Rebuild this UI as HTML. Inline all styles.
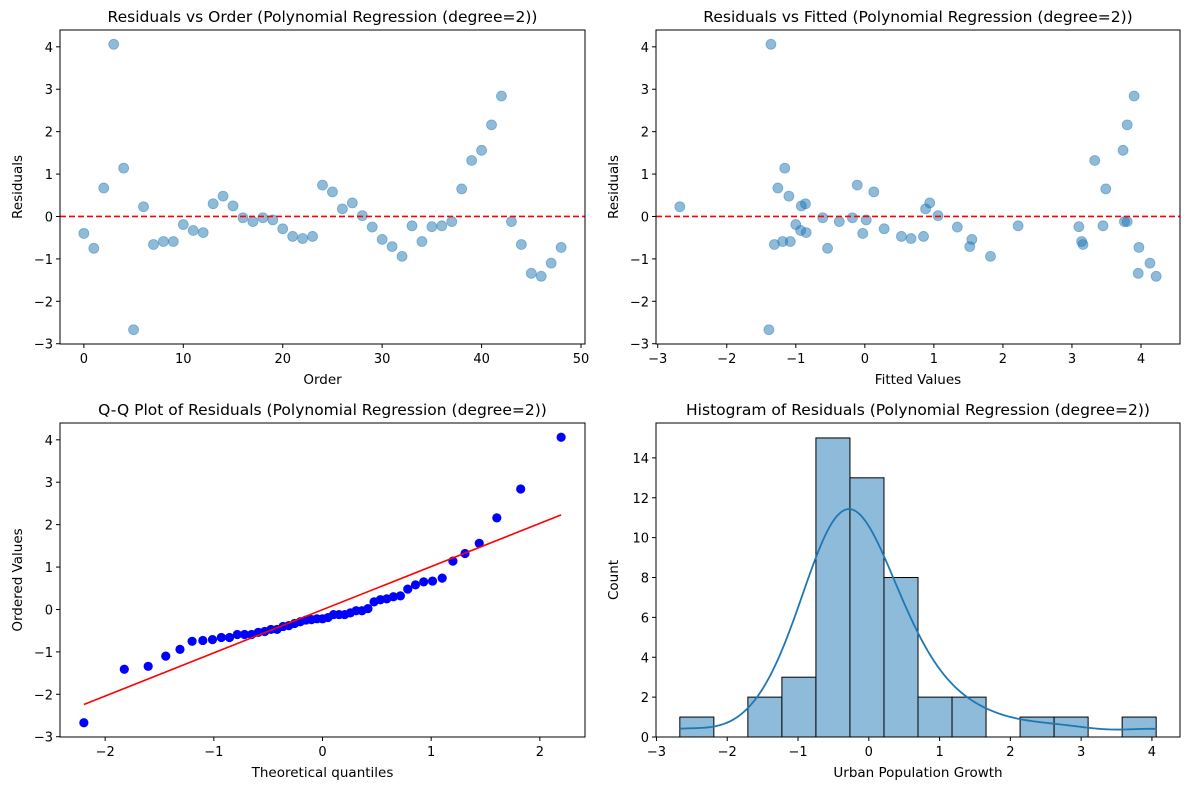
<!DOCTYPE html>
<html><head><meta charset="utf-8"><style>
html,body{margin:0;padding:0;background:#fff;}
svg{display:block;font-family:"DejaVu Sans","Liberation Sans",sans-serif;}
</style></head><body>
<svg id="fig" width="1189" height="790" viewBox="0 0 1189 790" xmlns="http://www.w3.org/2000/svg"></svg>
<script>
// ---- data ----
const orderIdx = [0,1,2,3,4,5,6,7,8,9,10,11,12,13,14,15,16,17,18,19,20,21,22,23,24,25,26,27,28,29,30,31,32,33,34,35,36,37,38,39,40,41,42,43,44,45,46,47,48];
const residuals = [-0.40,-0.75,0.67,4.06,1.14,-2.67,0.23,-0.66,-0.59,-0.59,-0.19,-0.33,-0.38,0.30,0.48,0.25,-0.03,-0.12,-0.03,-0.08,-0.29,-0.47,-0.52,-0.47,0.74,0.58,0.18,0.32,0.02,-0.25,-0.54,-0.71,-0.94,-0.22,-0.59,-0.24,-0.22,-0.12,0.65,1.32,1.56,2.16,2.84,-0.12,-0.66,-1.34,-1.41,-1.10,-0.73];
const fitted = [-0.03,-0.54,-1.26,-1.36,-1.16,-1.39,-2.68,-1.31,-1.19,-1.08,-1.00,-0.93,-0.85,-0.86,-1.10,-0.92,-0.61,-0.37,-0.18,0.02,0.28,0.53,0.67,0.85,-0.11,0.13,0.88,0.94,1.06,1.34,1.55,1.52,1.82,2.22,3.14,3.10,3.45,3.76,3.49,3.33,3.74,3.80,3.90,3.80,3.16,3.96,4.22,4.13,3.97];
const histBins = 14;
const ticksOrderX = [0,10,20,30,40,50];
const ticksResY = [-3,-2,-1,0,1,2,3,4];
const ticksFittedX = [-3,-2,-1,0,1,2,3,4];
const ticksQQX = [-2,-1,0,1,2];
const ticksHistX = [-3,-2,-1,0,1,2,3,4];
const ticksHistY = [0,2,4,6,8,10,12,14];

const svg = document.getElementById('fig');
const NS = 'http://www.w3.org/2000/svg';
function mk(tag, attrs, parent, text){
  const e = document.createElementNS(NS, tag);
  for (const k in attrs) e.setAttribute(k, attrs[k]);
  if (text !== undefined) e.textContent = text;
  (parent||svg).appendChild(e);
  return e;
}
function pad(lo, hi){ const r = hi-lo; return [lo-0.05*r, hi+0.05*r]; }
function minOf(a){ return Math.min.apply(null,a); }
function maxOf(a){ return Math.max.apply(null,a); }

function makeAxes(name, box, xlim, ylim){
  const g = mk('g', {});
  
  
  const sx = v => box.x0 + (v - xlim[0])/(xlim[1]-xlim[0])*(box.x1-box.x0);
  const sy = v => box.y1 - (v - ylim[0])/(ylim[1]-ylim[0])*(box.y1-box.y0);
  return {g, sx, sy, box};
}
function frame(ax, title, xlabel, ylabel, xt, yt){
  const {g, sx, sy, box} = ax;
  const fr = mk('rect', {x:box.x0, y:box.y0, width:box.x1-box.x0, height:box.y1-box.y0, fill:'none', stroke:'#000', 'stroke-width':1}, g);
  
  
  xt.forEach(v => {
    const x = sx(v);
    mk('line', {x1:x, x2:x, y1:box.y1, y2:box.y1+4, stroke:'#000'}, g);
    const t = mk('text', {x:x, y:box.y1+19, 'text-anchor':'middle', 'font-size':13, fill:'#000'}, g, String(v).replace('-', '\u2212'));
    
    
  });
  yt.forEach(v => {
    const y = sy(v);
    mk('line', {x1:box.x0-4, x2:box.x0, y1:y, y2:y, stroke:'#000'}, g);
    const t = mk('text', {x:box.x0-7, y:y+5, 'text-anchor':'end', 'font-size':13, fill:'#000'}, g, String(v).replace('-', '\u2212'));
    
    
  });
  const cx = (box.x0+box.x1)/2, cy = (box.y0+box.y1)/2;
  const tt = mk('text', {x:cx, y:box.y0-8, 'text-anchor':'middle', 'font-size':15.5, fill:'#000'}, g, title);
  
  
  const xl = mk('text', {x:cx, y:box.y1+40, 'text-anchor':'middle', 'font-size':13.5, fill:'#000'}, g, xlabel);
  
  
  const yx = box.x0 - 38;
  const yl = mk('text', {x:yx, y:cy, 'text-anchor':'middle', 'font-size':13.5, fill:'#000', transform:`rotate(-90 ${yx} ${cy})`}, g, ylabel);
  
  
}

const resLim = pad(minOf(residuals), maxOf(residuals));

// ---- Panel 1: residuals vs order ----
{
  const ax = makeAxes('residuals-vs-order-chart', {x0:60,x1:585,y0:30,y1:344}, pad(minOf(orderIdx), maxOf(orderIdx)), resLim);
  orderIdx.forEach((o,i) => {
    const c = mk('circle', {cx:ax.sx(o), cy:ax.sy(residuals[i]), r:5, fill:'#1f77b4', 'fill-opacity':0.5, stroke:'#1f77b4', 'stroke-opacity':0.5, 'stroke-width':0.8}, ax.g);
    
    
  });
  const zl = mk('line', {x1:60, x2:585, y1:ax.sy(0), y2:ax.sy(0), stroke:'#ff0000', 'stroke-width':1.6, 'stroke-dasharray':'6,3'}, ax.g);
  
  
  frame(ax, 'Residuals vs Order (Polynomial Regression (degree=2))', 'Order', 'Residuals', ticksOrderX, ticksResY);
}
// ---- Panel 2: residuals vs fitted ----
{
  const ax = makeAxes('residuals-vs-fitted-chart', {x0:656,x1:1180,y0:30,y1:344}, pad(minOf(fitted), maxOf(fitted)), resLim);
  fitted.forEach((f,i) => {
    const c = mk('circle', {cx:ax.sx(f), cy:ax.sy(residuals[i]), r:5, fill:'#1f77b4', 'fill-opacity':0.5, stroke:'#1f77b4', 'stroke-opacity':0.5, 'stroke-width':0.8}, ax.g);
    
    
  });
  const zl = mk('line', {x1:656, x2:1180, y1:ax.sy(0), y2:ax.sy(0), stroke:'#ff0000', 'stroke-width':1.6, 'stroke-dasharray':'6,3'}, ax.g);
  
  
  frame(ax, 'Residuals vs Fitted (Polynomial Regression (degree=2))', 'Fitted Values', 'Residuals', ticksFittedX, ticksResY);
}
// ---- Panel 3: Q-Q plot ----
function normInv(p){
  const a=[-3.969683028665376e+01,2.209460984245205e+02,-2.759285104469687e+02,1.383577518672690e+02,-3.066479806614716e+01,2.506628277459239e+00];
  const b=[-5.447609879822406e+01,1.615858368580409e+02,-1.556989798598866e+02,6.680131188771972e+01,-1.328068155288572e+01];
  const c=[-7.784894002430293e-03,-3.223964580411365e-01,-2.400758277161838e+00,-2.549732539343734e+00,4.374664141464968e+00,2.938163982698783e+00];
  const d=[7.784695709041462e-03,3.224671290700398e-01,2.445134137142996e+00,3.754408661907416e+00];
  const pl=0.02425;
  if(p<pl){const q=Math.sqrt(-2*Math.log(p));return (((((c[0]*q+c[1])*q+c[2])*q+c[3])*q+c[4])*q+c[5])/((((d[0]*q+d[1])*q+d[2])*q+d[3])*q+1);}
  if(p>1-pl){const q=Math.sqrt(-2*Math.log(1-p));return -(((((c[0]*q+c[1])*q+c[2])*q+c[3])*q+c[4])*q+c[5])/((((d[0]*q+d[1])*q+d[2])*q+d[3])*q+1);}
  const q=p-0.5,r=q*q;return (((((a[0]*r+a[1])*r+a[2])*r+a[3])*r+a[4])*r+a[5])*q/(((((b[0]*r+b[1])*r+b[2])*r+b[3])*r+b[4])*r+1);
}
{
  const n = residuals.length;
  const sorted = residuals.slice().sort((a,b)=>a-b);
  const th = sorted.map((_,i) => {
    let m;
    if (i===n-1) m = Math.pow(0.5, 1/n);
    else if (i===0) m = 1-Math.pow(0.5, 1/n);
    else m = (i+1-0.3175)/(n+0.365);
    return normInv(m);
  });
  const mx = th.reduce((s,v)=>s+v,0)/n, my = sorted.reduce((s,v)=>s+v,0)/n;
  let sxy=0,sxx=0; th.forEach((x,i)=>{sxy+=(x-mx)*(sorted[i]-my); sxx+=(x-mx)*(x-mx);});
  const slope = sxy/sxx, icpt = my - slope*mx;
  const ax = makeAxes('qq-plot-chart', {x0:60,x1:585,y0:423,y1:737}, pad(th[0], th[n-1]), pad(minOf(sorted), maxOf(sorted)));
  th.forEach((x,i) => {
    const c = mk('circle', {cx:ax.sx(x), cy:ax.sy(sorted[i]), r:4.6, fill:'#0000ff'}, ax.g);
    
    
  });
  const fl = mk('line', {x1:ax.sx(th[0]), y1:ax.sy(icpt+slope*th[0]), x2:ax.sx(th[n-1]), y2:ax.sy(icpt+slope*th[n-1]), stroke:'#ff0000', 'stroke-width':1.6}, ax.g);
  
  
  frame(ax, 'Q-Q Plot of Residuals (Polynomial Regression (degree=2))', 'Theoretical quantiles', 'Ordered Values', ticksQQX, ticksResY);
}
// ---- Panel 4: histogram ----
{
  const n = residuals.length;
  const lo = minOf(residuals), hi = maxOf(residuals);
  const w = (hi-lo)/histBins;
  const counts = new Array(histBins).fill(0);
  residuals.forEach(v => { let k = Math.floor((v-lo)/w); if (k>=histBins) k = histBins-1; counts[k]++; });
  const ymax = maxOf(counts)*1.05;
  const ax = makeAxes('residual-histogram-chart', {x0:656,x1:1180,y0:423,y1:737}, pad(lo, hi), [0, ymax]);
  counts.forEach((c,k) => {
    if (!c) return;
    const x0 = ax.sx(lo+k*w), x1 = ax.sx(lo+(k+1)*w);
    const r = mk('rect', {x:x0, y:ax.sy(c), width:x1-x0, height:ax.sy(0)-ax.sy(c), fill:'#8fbbda', stroke:'#000', 'stroke-width':1}, ax.g);
    
    
  });
  const mean = residuals.reduce((s,v)=>s+v,0)/n;
  const sd = Math.sqrt(residuals.reduce((s,v)=>s+(v-mean)*(v-mean),0)/(n-1));
  const bw = sd*Math.pow(n, -0.2);
  let d = '';
  for (let j=0;j<=200;j++){
    const x = lo + (hi-lo)*j/200;
    let s = 0; residuals.forEach(v => { const z=(x-v)/bw; s += Math.exp(-0.5*z*z); });
    const dens = s/(n*bw*Math.sqrt(2*Math.PI));
    d += (j?'L':'M') + ax.sx(x).toFixed(2) + ',' + ax.sy(dens*n*w).toFixed(2);
  }
  const kp = mk('path', {d:d, fill:'none', stroke:'#1f77b4', 'stroke-width':1.8}, ax.g);
  
  
  frame(ax, 'Histogram of Residuals (Polynomial Regression (degree=2))', 'Urban Population Growth', 'Count', ticksHistX, ticksHistY);
}
</script>
</body></html>
